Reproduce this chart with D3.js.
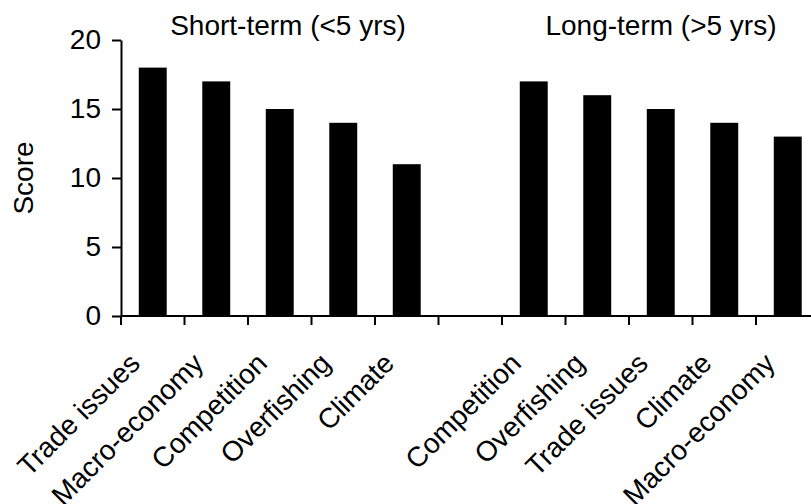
<!DOCTYPE html>
<html>
<head>
<meta charset="utf-8">
<script src="https://cdn.jsdelivr.net/npm/d3@7"></script>
<style>
  body { margin: 0; background: #fff; }
  svg text { font-family: Arial, "Liberation Sans", sans-serif; fill: #000; }
</style>
</head>
<body>
<div id="chart"></div>
<script>
// data
var shortCats = ["Trade issues", "Macro-economy", "Competition", "Overfishing", "Climate"];
var shortVals = [18, 17, 15, 14, 11];
var longCats = ["Competition", "Overfishing", "Trade issues", "Climate", "Macro-economy"];
var longVals = [17, 16, 15, 14, 13];
var yTicks = [0, 5, 10, 15, 20];
var groupTitles = ["Short-term (<5 yrs)", "Long-term (>5 yrs)"];

var width = 811, height = 504;
var margin = { top: 40, left: 121, bottom: 188 };

// one empty slot between the two groups
var slots = [];
shortCats.forEach(function (c, i) { slots.push({ cat: c, value: shortVals[i], group: 0 }); });
slots.push({ cat: "", value: null, group: -1 });
longCats.forEach(function (c, i) { slots.push({ cat: c, value: longVals[i], group: 1 }); });

var svg = d3.select("#chart")
    .append("svg")
    .attr("width", width)
    .attr("height", height);

var x = d3.scaleBand()
    .domain(d3.range(slots.length))
    .range([margin.left, margin.left + 63.5 * slots.length])
    .padding(0);

var y = d3.scaleLinear()
    .domain([0, 20])
    .range([height - margin.bottom, margin.top]);

var barW = x.bandwidth() * 0.44;

// bars
svg.append("g")
    .selectAll("rect")
    .data(slots.filter(function (d) { return d.value !== null; }))
    .enter().append("rect")
    .attr("x", function (d) { return x(slots.indexOf(d)) + (x.bandwidth() - barW) / 2; })
    .attr("y", function (d) { return y(d.value); })
    .attr("width", barW)
    .attr("height", function (d) { return y(0) - y(d.value); })
    .style("fill", "#000");

// y axis
var yAxis = svg.append("g")
    .attr("transform", "translate(" + margin.left + ",0)")
    .call(d3.axisLeft(y).tickValues(yTicks).tickSize(9).tickPadding(11).tickSizeOuter(0));
yAxis.select(".domain").attr("stroke-width", 2);
yAxis.selectAll(".tick line").attr("stroke-width", 2);
yAxis.selectAll("text")
    .style("font-size", "28px")
    .attr("font-family", null);

// x axis: line plus ticks at band boundaries
var xg = svg.append("g");
xg.append("line")
    .attr("x1", margin.left)
    .attr("x2", width)
    .attr("y1", y(0))
    .attr("y2", y(0))
    .attr("stroke", "#000")
    .attr("stroke-width", 2);
xg.selectAll(".xtick")
    .data(d3.range(slots.length))
    .enter().append("line")
    .attr("class", "xtick")
    .attr("x1", function (i) { return x(i); })
    .attr("x2", function (i) { return x(i); })
    .attr("y1", y(0))
    .attr("y2", y(0) + 9)
    .attr("stroke", "#000")
    .attr("stroke-width", 2);

// category labels, rotated
xg.selectAll(".xlabel")
    .data(slots)
    .enter().append("text")
    .attr("class", "xlabel")
    .attr("transform", function (d, i) {
        return "translate(" + (x(i) + x.bandwidth() / 2 - 11) + "," + (y(0) + 49) + ") rotate(-45)";
    })
    .attr("text-anchor", "end")
    .style("font-size", "28px")
    .text(function (d) { return d.cat; });

// y title
svg.append("text")
    .attr("transform", "translate(33," + y(10) + ") rotate(-90)")
    .attr("text-anchor", "middle")
    .style("font-size", "28px")
    .text("Score");

// group titles
var titleX = [288, 661];
svg.selectAll(".gtitle")
    .data(groupTitles)
    .enter().append("text")
    .attr("class", "gtitle")
    .attr("x", function (d, i) { return titleX[i]; })
    .attr("y", 35)
    .attr("text-anchor", "middle")
    .style("font-size", "28px")
    .text(function (d) { return d; });
</script>
</body>
</html>
